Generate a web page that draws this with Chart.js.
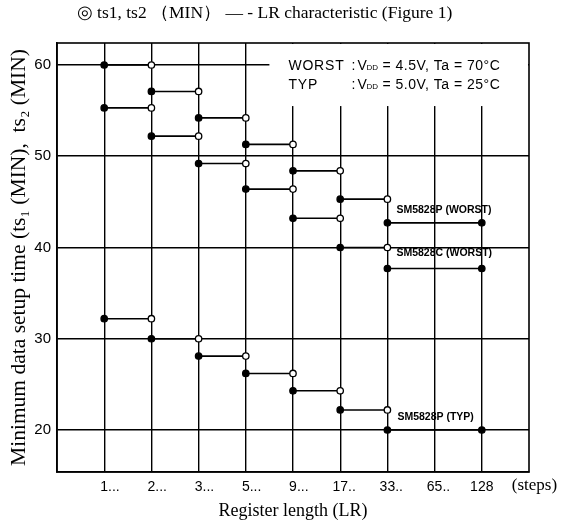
<!DOCTYPE html>
<html><head><meta charset="utf-8">
<script src="https://cdn.jsdelivr.net/npm/chart.js@4.4.0/dist/chart.umd.min.js"></script>
<style>html,body{margin:0;padding:0;background:#fff;}</style>
</head><body>
<canvas id="c" width="573" height="524"></canvas>
<script>
// Register length (LR) categories
const lrLabels = ['1', '2', '3', '5', '9', '17', '33', '65', '128'];
const lrDots   = [3, 3, 3, 3, 3, 2, 2, 2, 0];
// Step values: value[i] holds from lrLabels[i] to lrLabels[i+1]; last one holds 33 .. 128
const worstP = [60.0, 57.1, 54.2, 51.3, 48.4, 45.3, 42.7];
const worstC = [55.3, 52.2, 49.2, 46.4, 43.2, 40.0, 37.7];
const typP   = [32.2, 30.0, 28.1, 26.2, 24.3, 22.2, 20.0];
const yTicks = [20, 30, 40, 50, 60];
const seriesNames = ['SM5828P (WORST)', 'SM5828C (WORST)', 'SM5828P (TYP)'];
const condRows = [
  ['WORST', ':', 'V', 'DD', '= 4.5V, Ta = 70°C'],
  ['TYP',   ':', 'V', 'DD', '= 5.0V, Ta = 25°C']
];

function stepSeries(vals) {
  const pts = [], fill = [];
  const lastIdx = lrLabels.length - 1;
  vals.forEach((v, i) => {
    const last = i === vals.length - 1;
    const x1 = last ? lastIdx : i + 1;
    pts.push({x: i, y: v}); fill.push('#000');
    pts.push({x: x1, y: v}); fill.push(last ? '#000' : '#fff');
    if (!last) { pts.push({x: x1, y: null}); fill.push('#fff'); }
  });
  return {pts, fill};
}

const sans = "'Liberation Sans', Arial, sans-serif";
const serif = "'Liberation Serif', 'Times New Roman', serif";

const datasets = [worstP, worstC, typP].map((vals, k) => {
  const s = stepSeries(vals);
  return {
    label: seriesNames[k],
    data: s.pts,
    borderColor: '#000',
    borderWidth: 1.6,
    pointRadius: 3.2,
    pointBorderWidth: 1.3,
    pointBorderColor: '#000',
    pointBackgroundColor: s.fill,
    spanGaps: false,
    tension: 0
  };
});

const decor = {
  id: 'decor',
  beforeDatasetsDraw(chart) {
    const {ctx, chartArea: a, scales: {x, y}} = chart;
    ctx.save();
    // condition box (covers grid lines)
    const bx = x.getPixelForValue(3.5);
    const by = y.getPixelForValue(55.5);
    ctx.fillStyle = '#fff';
    ctx.fillRect(bx, a.top + 1, a.right - bx - 1, by - a.top - 1);
    // conditions text
    ctx.fillStyle = '#000';
    ctx.textBaseline = 'middle';
    ctx.textAlign = 'left';
    condRows.forEach((r, i) => {
      const ty = a.top + 23 + i * 19;
      ctx.font = "14px " + sans;
      ctx.letterSpacing = '0.8px';
      ctx.fillText(r[0], bx + 19, ty);
      ctx.letterSpacing = '0px';
      ctx.fillText(r[1], bx + 82, ty);
      ctx.fillText(r[2], bx + 88, ty);
      ctx.font = "8px " + sans;
      ctx.fillText(r[3], bx + 97, ty + 2);
      ctx.font = "14px " + sans;
      ctx.letterSpacing = '0.5px';
      ctx.fillText(r[4], bx + 113, ty);
    });
    ctx.letterSpacing = '0px';
    // frame
    ctx.strokeStyle = '#000';
    ctx.lineWidth = 1.6;
    ctx.strokeRect(a.left, a.top, a.right - a.left, a.bottom - a.top);
    ctx.restore();
  },
  afterDatasetsDraw(chart) {
    const {ctx, scales: {x, y}} = chart;
    ctx.save();
    ctx.fillStyle = '#000';
    ctx.textBaseline = 'middle';
    ctx.textAlign = 'left';
    ctx.font = "bold 10.5px " + sans;
    const lx = x.getPixelForValue(6) + 9;
    ctx.fillText(seriesNames[0], lx, y.getPixelForValue(worstP[6]) - 13);
    ctx.fillText(seriesNames[1], lx, y.getPixelForValue(worstC[6]) - 15);
    ctx.fillText(seriesNames[2], lx + 1, y.getPixelForValue(typP[6]) - 13);
    // unit after last tick
    ctx.font = "17px " + serif;
    ctx.fillText('(steps)', x.getPixelForValue(8) + 30, chart.chartArea.bottom + 14);
    ctx.restore();
  }
};

new Chart(document.getElementById('c'), {
  type: 'line',
  data: {datasets},
  plugins: [decor],
  options: {
    responsive: false,
    animation: false,
    devicePixelRatio: 1,
    layout: {padding: {left: 0, right: 44, top: 0, bottom: 0}},
    plugins: {
      legend: {display: false},
      tooltip: {enabled: false},
      title: {
        display: true,
        text: '◎ ts1, ts2 （MIN） — - LR characteristic (Figure 1)',
        color: '#000',
        font: {family: serif, size: 17.5, weight: 'normal'},
        padding: {top: 3, bottom: 19}
      }
    },
    scales: {
      x: {
        type: 'linear',
        min: -1, max: 9,
        afterBuildTicks: s => { s.ticks = lrLabels.map((_, i) => ({value: i})); },
        afterFit: s => { s.height = 52; },
        grid: {color: '#000', lineWidth: 1.4, drawTicks: false},
        border: {color: '#000', width: 1.6},
        ticks: {
          color: '#000', padding: 7, autoSkip: false, maxRotation: 0,
          font: {family: sans, size: 14},
          callback: (v) => {
            const i = Math.round(v);
            const n = lrDots[i];
            return ' '.repeat(n) + lrLabels[i] + '.'.repeat(n);
          }
        },
        title: {
          display: true, text: 'Register length (LR)', color: '#000',
          font: {family: serif, size: 18}, padding: {top: 0, bottom: 2}
        }
      },
      y: {
        min: 15.4, max: 62.41,
        afterBuildTicks: s => { s.ticks = yTicks.map(v => ({value: v})); },
        afterFit: s => { s.width = 57; },
        grid: {color: '#000', lineWidth: 1.6, drawTicks: false},
        border: {color: '#000', width: 1.6},
        ticks: {color: '#000', padding: 6, font: {family: sans, size: 15}},
        title: {
          display: true, text: 'Minimum data setup time (ts₁ (MIN),  ts₂ (MIN)', color: '#000',
          font: {family: serif, size: 21.5}, padding: {top: 6, bottom: 0}
        }
      }
    }
  }
});
</script>
</body></html>
